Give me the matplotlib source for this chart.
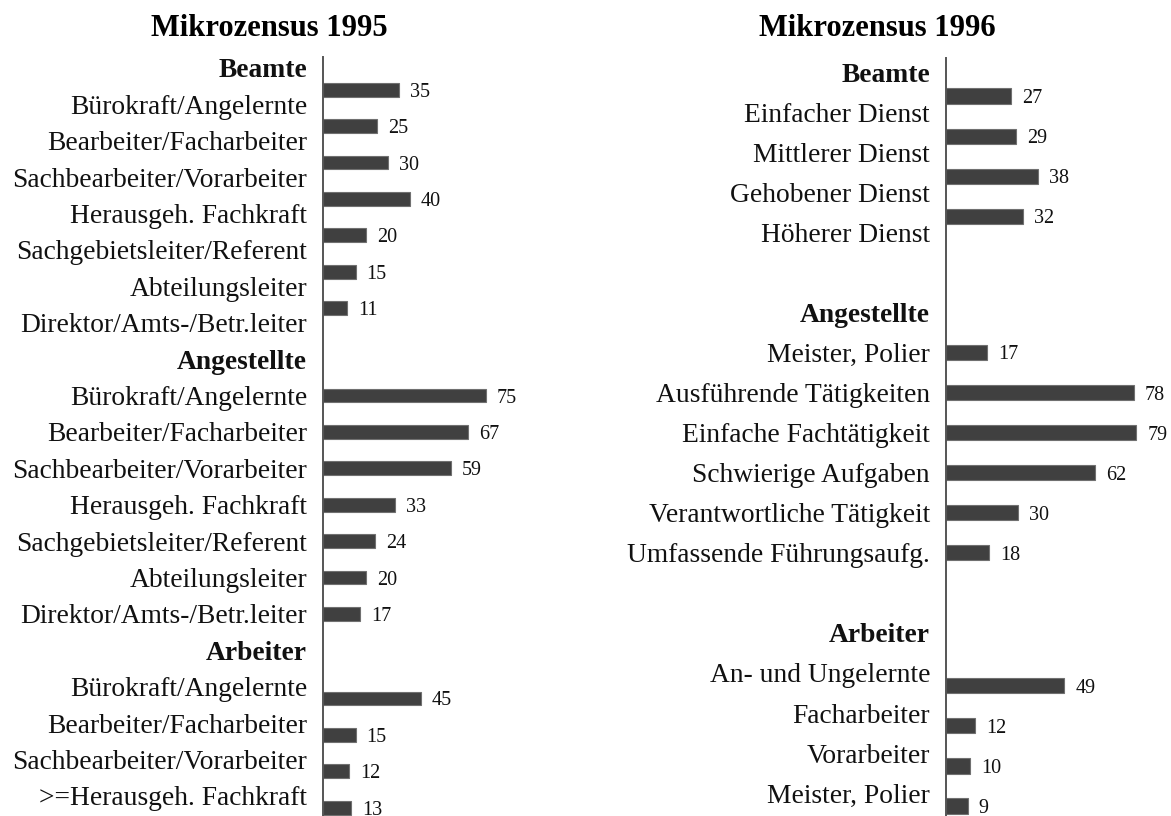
import matplotlib
matplotlib.use("Agg")
import matplotlib.pyplot as plt

plt.rcParams['font.family'] = ['Liberation Serif', 'DejaVu Serif']

# ---- data ----
groups = ["Beamte", "Angestellte", "Arbeiter"]

cats_1995_beamte = ["Bürokraft/Angelernte", "Bearbeiter/Facharbeiter",
                    "Sachbearbeiter/Vorarbeiter", "Herausgeh. Fachkraft",
                    "Sachgebietsleiter/Referent", "Abteilungsleiter",
                    "Direktor/Amts-/Betr.leiter"]
vals_1995_beamte = [35, 25, 30, 40, 20, 15, 11]
cats_1995_angest = ["Bürokraft/Angelernte", "Bearbeiter/Facharbeiter",
                    "Sachbearbeiter/Vorarbeiter", "Herausgeh. Fachkraft",
                    "Sachgebietsleiter/Referent", "Abteilungsleiter",
                    "Direktor/Amts-/Betr.leiter"]
vals_1995_angest = [75, 67, 59, 33, 24, 20, 17]
cats_1995_arbeiter = ["Bürokraft/Angelernte", "Bearbeiter/Facharbeiter",
                      "Sachbearbeiter/Vorarbeiter", ">=Herausgeh. Fachkraft"]
vals_1995_arbeiter = [45, 15, 12, 13]

cats_1996_beamte = ["Einfacher Dienst", "Mittlerer Dienst",
                    "Gehobener Dienst", "Höherer Dienst"]
vals_1996_beamte = [27, 29, 38, 32]
cats_1996_angest = ["Meister, Polier", "Ausführende Tätigkeiten",
                    "Einfache Fachtätigkeit", "Schwierige Aufgaben",
                    "Verantwortliche Tätigkeit", "Umfassende Führungsaufg."]
vals_1996_angest = [17, 78, 79, 62, 30, 18]
cats_1996_arbeiter = ["An- und Ungelernte", "Facharbeiter",
                      "Vorarbeiter", "Meister, Polier"]
vals_1996_arbeiter = [49, 12, 10, 9]

titles = ["Mikrozensus 1995", "Mikrozensus 1996"]

# ---- style ----
BAR_COLOR = "#404040"
EDGE_COLOR = "#707070"
AXIS_COLOR = "#555555"
LABEL_SIZE = 19.8
NUM_SIZE = 14.5
TITLE_SIZE = 22
BAR_H = 0.38
GROUP_OFFSETS = [-0.40, 0.0, 0.32]

fig = plt.figure(figsize=(11.71, 8.16), dpi=100)


def draw_panel(ax, sections, gap, ylim):
    ticks, labels, bold = [], [], []
    pos = 0
    for gi, (header, cats, vals) in enumerate(sections):
        ticks.append(pos); labels.append(header); bold.append(True)
        pos += 1
        for c, v in zip(cats, vals):
            ticks.append(pos); labels.append(c); bold.append(False)
            y = pos + GROUP_OFFSETS[gi]
            ax.barh(y, v, height=BAR_H, color=BAR_COLOR,
                    edgecolor=EDGE_COLOR, linewidth=0.8)
            ax.annotate(str(v), (v, y), xytext=(11, 0),
                        textcoords="offset pixels", ha="left",
                        va="center_baseline",
                        fontsize=NUM_SIZE, color="#111111")
            pos += 1
        pos += gap
    ax.set_yticks(ticks)
    ax.set_yticklabels(labels, fontsize=LABEL_SIZE)
    for t, b in zip(ax.get_yticklabels(), bold):
        if b:
            t.set_fontweight("bold")
    ax.tick_params(axis="y", length=0, pad=11.5, colors="#111111")
    ax.set_xticks([])
    ax.set_ylim(*ylim)
    for s in ["top", "right", "bottom"]:
        ax.spines[s].set_visible(False)
    ax.spines["left"].set_color(AXIS_COLOR)
    ax.spines["left"].set_linewidth(1.4)


ax1 = fig.add_axes([323 / 1171, 0.0, 217 / 1171, (816 - 57) / 816])
ax1.set_xlim(0, 100)
draw_panel(ax1, [(groups[0], cats_1995_beamte, vals_1995_beamte),
                 (groups[1], cats_1995_angest, vals_1995_angest),
                 (groups[2], cats_1995_arbeiter, vals_1995_arbeiter)],
           gap=0, ylim=(20.55, -0.30))

ax2 = fig.add_axes([946 / 1171, 0.0, 217 / 1171, (816 - 58) / 816])
ax2.set_xlim(0, 90)
draw_panel(ax2, [(groups[0], cats_1996_beamte, vals_1996_beamte),
                 (groups[1], cats_1996_angest, vals_1996_angest),
                 (groups[2], cats_1996_arbeiter, vals_1996_arbeiter)],
           gap=1, ylim=(18.57, -0.35))

fig.text(269 / 1171, 1 - 28 / 816, titles[0], ha="center", va="center",
         fontsize=TITLE_SIZE, fontweight="bold")
fig.text(877 / 1171, 1 - 28 / 816, titles[1], ha="center", va="center",
         fontsize=TITLE_SIZE, fontweight="bold")

fig.savefig("out.png", dpi=100, facecolor="white")
